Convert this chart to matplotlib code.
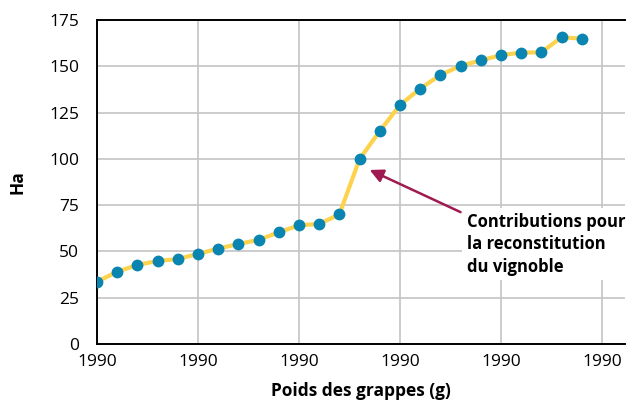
import matplotlib
matplotlib.use('Agg')
import matplotlib.pyplot as plt
import numpy as np

plt.rcParams['font.family'] = ['Open Sans', 'DejaVu Sans']

# données
x = np.arange(25)
ha = [33.6, 39, 42.7, 44.8, 45.9, 48.6, 51.5, 54, 56.2, 60.3, 64.1, 64.8, 70,
      99.9, 115, 129.1, 137.9, 145.3, 150.2, 153.2, 156, 157.4, 157.5, 165.7, 164.9]
xtick_pos = [0, 5, 10, 15, 20, 25]
xtick_labels = ['1990'] * 6
ytick_pos = [0, 25, 50, 75, 100, 125, 150, 175]

fig = plt.figure(figsize=(6.36, 4.08), dpi=100)
ax = fig.add_axes([0.1525, 0.157, 0.8305, 0.794])

ax.plot(x, ha, color='#FDD34D', lw=3, zorder=3)
ax.plot(x, ha, 'o', color='#0A84B0', ms=8.5, mec='none', zorder=4)

ax.set_xlim(0, 26.15)
ax.set_ylim(0, 175)
ax.set_xticks(xtick_pos)
ax.set_xticklabels(xtick_labels)
ax.set_yticks(ytick_pos)
ax.tick_params(length=0, labelsize=12.5, pad=7)
ax.tick_params(axis='y', pad=13)
ax.grid(True, color='#c4c4c4', lw=1.2)
ax.set_axisbelow(True)

for s in ['left', 'bottom', 'top']:
    ax.spines[s].set_color('black')
    ax.spines[s].set_linewidth(1.4)
ax.spines['right'].set_visible(False)

ax.set_xlabel('Poids des grappes (g)', fontsize=12.5, fontweight='bold', labelpad=9)
ax.set_ylabel('Ha', fontsize=12.5, fontweight='bold', labelpad=16)

# annotation
ax.text(18.3, 71, 'Contributions pour\nla reconstitution\ndu vignoble',
        fontsize=12, fontweight='bold', va='top', ha='left', linespacing=1.35,
        bbox=dict(facecolor='white', edgecolor='none', pad=3), zorder=5)
ax.annotate('', xy=(13.5, 94), xytext=(18.0, 71.2),
            arrowprops=dict(arrowstyle='-|>,head_length=0.8,head_width=0.4',
                            color='#A01A52', lw=1.8, shrinkA=0, shrinkB=0),
            zorder=6)

fig.savefig('out.png', dpi=100)
